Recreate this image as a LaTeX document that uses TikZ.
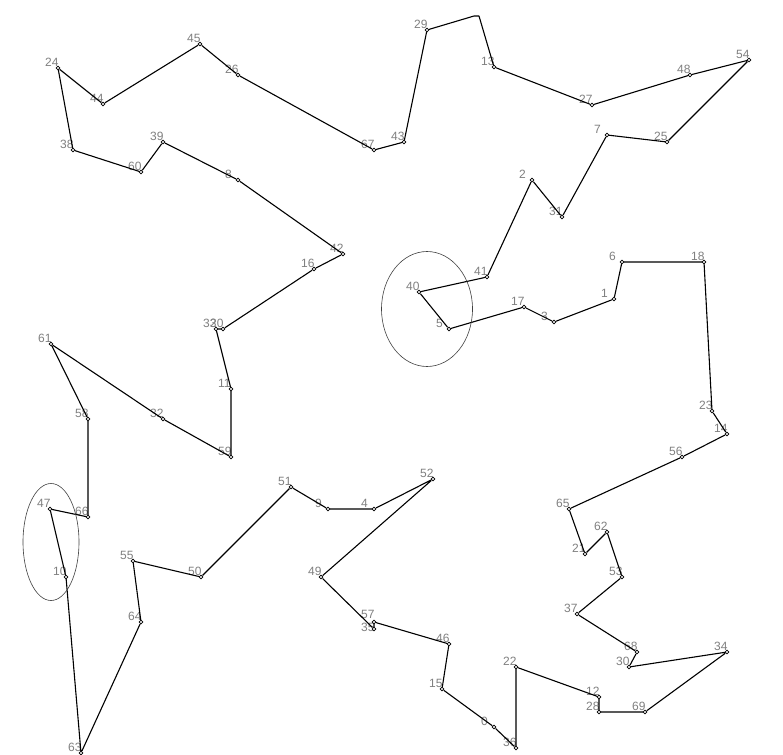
\documentclass[tikz,border=0pt]{standalone}
\usepackage{fontspec}
\setmainfont{Liberation Sans}
\begin{document}
\begin{tikzpicture}[x=1pt,y=-1pt,
  pt/.style={circle,draw=black,fill=white,line width=0.6pt,inner sep=0pt,minimum size=3.8pt},
  lab/.style={anchor=west,inner sep=0pt,text=black!50,font=\fontsize{12}{12}\selectfont},
  tour/.style={draw=black,line width=1.1pt},
  ring/.style={draw=black!75,line width=0.6pt}]
\fill[white] (0,0) rectangle (783,754);
\useasboundingbox (0,0) rectangle (783,754);
\newcommand\tp[4]{\node[lab] (l#1) at (#2-13,#3-6) {#4};}
\newcommand\tq[3]{\node[pt] (p#1) at (#2,#3) {};}
% labels
\tp{13}{494}{67}{13}
\tp{27}{592}{105}{27}
\tp{48}{690}{75}{48}
\tp{54}{749}{60}{54}
\tp{25}{667}{142}{25}
\tp{7}{607}{135}{7}
\tp{31}{562}{217}{31}
\tp{2}{532}{180}{2}
\tp{41}{487}{277}{41}
\tp{40}{419}{292}{40}
\tp{5}{449}{329}{5}
\tp{17}{524}{307}{17}
\tp{3}{554}{322}{3}
\tp{1}{614}{299}{1}
\tp{6}{622}{262}{6}
\tp{18}{704}{262}{18}
\tp{23}{712}{411}{23}
\tp{14}{727}{434}{14}
\tp{56}{682}{457}{56}
\tp{65}{569}{509}{65}
\tp{21}{585}{554}{21}
\tp{62}{607}{532}{62}
\tp{53}{622}{577}{53}
\tp{37}{577}{614}{37}
\tp{68}{637}{652}{68}
\tp{30}{629}{667}{30}
\tp{34}{727}{652}{34}
\tp{69}{645}{712}{69}
\tp{28}{599}{712}{28}
\tp{12}{599}{697}{12}
\tp{22}{516}{667}{22}
\tp{36}{516}{748}{36}
\tp{0}{494}{727}{0}
\tp{15}{442}{689}{15}
\tp{46}{449}{644}{46}
\tp{57}{374}{620}{57}
\tp{35}{374}{633}{35}
\tp{49}{321}{577}{49}
\tp{52}{433}{479}{52}
\tp{4}{374}{509}{4}
\tp{9}{328}{509}{9}
\tp{51}{291}{487}{51}
\tp{50}{201}{577}{50}
\tp{55}{133}{561}{55}
\tp{64}{141}{622}{64}
\tp{63}{81}{753}{63}
\tp{10}{66}{577}{10}
\tp{47}{50}{509}{47}
\tp{66}{88}{517}{66}
\tp{58}{88}{419}{58}
\tp{61}{51}{344}{61}
\tp{32}{163}{419}{32}
\tp{59}{231}{457}{59}
\tp{11}{231}{389}{11}
\tp{33}{216}{329}{33}
\tp{20}{223}{329}{20}
\tp{16}{314}{269}{16}
\tp{42}{343}{254}{42}
\tp{8}{238}{180}{8}
\tp{39}{163}{142}{39}
\tp{60}{141}{172}{60}
\tp{38}{73}{150}{38}
\tp{24}{58}{68}{24}
\tp{44}{103}{104}{44}
\tp{45}{200}{44}{45}
\tp{26}{238}{75}{26}
\tp{67}{374}{150}{67}
\tp{43}{404}{142}{43}
\tp{29}{427}{30}{29}
% points
\tq{13}{494}{67}
\tq{27}{592}{105}
\tq{48}{690}{75}
\tq{54}{749}{60}
\tq{25}{667}{142}
\tq{7}{607}{135}
\tq{31}{562}{217}
\tq{2}{532}{180}
\tq{41}{487}{277}
\tq{40}{419}{292}
\tq{5}{449}{329}
\tq{17}{524}{307}
\tq{3}{554}{322}
\tq{1}{614}{299}
\tq{6}{622}{262}
\tq{18}{704}{262}
\tq{23}{712}{411}
\tq{14}{727}{434}
\tq{56}{682}{457}
\tq{65}{569}{509}
\tq{21}{585}{554}
\tq{62}{607}{532}
\tq{53}{622}{577}
\tq{37}{577}{614}
\tq{68}{637}{652}
\tq{30}{629}{667}
\tq{34}{727}{652}
\tq{69}{645}{712}
\tq{28}{599}{712}
\tq{12}{599}{697}
\tq{22}{516}{667}
\tq{36}{516}{748}
\tq{0}{494}{727}
\tq{15}{442}{689}
\tq{46}{449}{644}
\tq{57}{374}{622}
\tq{35}{374}{629}
\tq{49}{321}{577}
\tq{52}{433}{479}
\tq{4}{374}{509}
\tq{9}{328}{509}
\tq{51}{291}{487}
\tq{50}{201}{577}
\tq{55}{133}{561}
\tq{64}{141}{622}
\tq{63}{81}{753}
\tq{10}{66}{577}
\tq{47}{50}{509}
\tq{66}{88}{517}
\tq{58}{88}{419}
\tq{61}{51}{344}
\tq{32}{163}{419}
\tq{59}{231}{457}
\tq{11}{231}{389}
\tq{33}{216}{329}
\tq{20}{223}{329}
\tq{16}{314}{269}
\tq{42}{343}{254}
\tq{8}{238}{180}
\tq{39}{163}{142}
\tq{60}{141}{172}
\tq{38}{73}{150}
\tq{24}{58}{68}
\tq{44}{103}{104}
\tq{45}{200}{44}
\tq{26}{238}{75}
\tq{67}{374}{150}
\tq{43}{404}{142}
\tq{29}{427}{30}
\coordinate (tA) at (474,16);
\coordinate (tB) at (479,16);
% tour
\draw[tour] (tB) -- (p13) -- (p27) -- (p48) -- (p54) -- (p25) -- (p7) -- (p31) -- (p2) -- (p41)
  -- (p40) -- (p5) -- (p17) -- (p3) -- (p1) -- (p6) -- (p18) -- (p23) -- (p14) -- (p56)
  -- (p65) -- (p21) -- (p62) -- (p53) -- (p37) -- (p68) -- (p30) -- (p34) -- (p69) -- (p28)
  -- (p12) -- (p22) -- (p36) -- (p0) -- (p15) -- (p46) -- (p57) -- (p35) -- (p49) -- (p52)
  -- (p4) -- (p9) -- (p51) -- (p50) -- (p55) -- (p64) -- (p63) -- (p10) -- (p47) -- (p66)
  -- (p58) -- (p61) -- (p32) -- (p59) -- (p11) -- (p33) -- (p20) -- (p16) -- (p42) -- (p8)
  -- (p39) -- (p60) -- (p38) -- (p24) -- (p44) -- (p45) -- (p26) -- (p67) -- (p43) -- (p29)
  -- (tA) -- (tB);
% rings
\draw[ring] (427,309) ellipse [x radius=45.5, y radius=57.5];
\draw[ring] (51,542) ellipse [x radius=28, y radius=58.5];
\end{tikzpicture}
\end{document}
